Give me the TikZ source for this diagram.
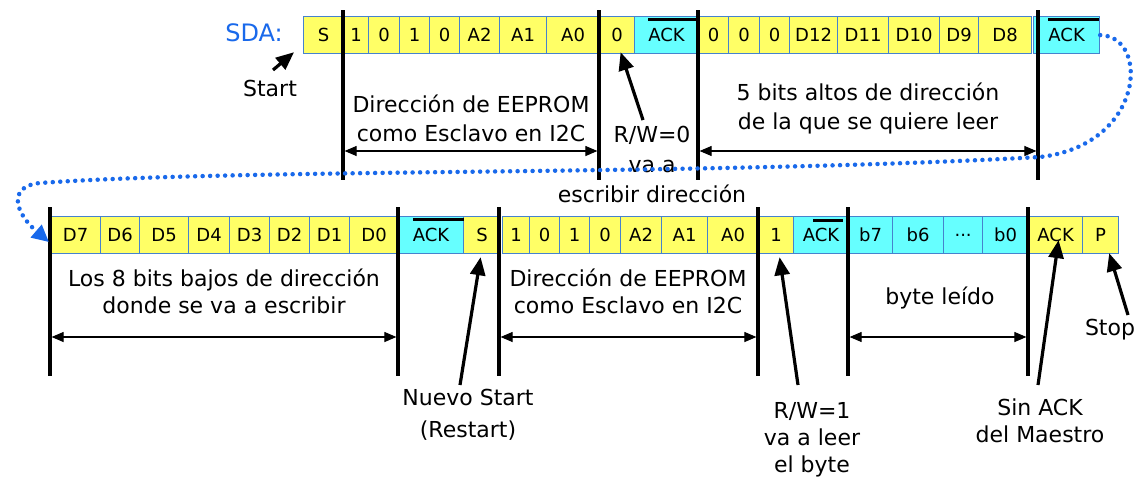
\documentclass[tikz,border=0pt]{standalone}
\usepackage{fontspec}
\setmainfont{DejaVu Sans}
\usetikzlibrary{arrows.meta,calc}
\definecolor{cellyellow}{RGB}{255,255,102}
\definecolor{cellcyan}{RGB}{102,255,255}
\definecolor{cellblue}{RGB}{70,130,205}
\definecolor{sdablue}{RGB}{25,105,235}
\newcommand\cellfont{\fontsize{18}{20}\selectfont}
\newcommand\notefont{\fontsize{22}{29}\selectfont}
\newcommand\mycell[6]{\pgfmathsetmacro\cellw{#5-#4}\node[#1, minimum width=\cellw pt] (#2) at (#4,#3) {#6};}
\tikzset{
  cellbox/.style={draw=cellblue, line width=1.2pt, minimum height=37pt, inner sep=0pt, anchor=north west, font=\cellfont},
  ycell/.style={cellbox, fill=cellyellow},
  ccell/.style={cellbox, fill=cellcyan},
  bar/.style={line width=3.2pt, black},
  dim/.style={line width=1.1pt, {Triangle[length=12pt,width=10pt]}-{Triangle[length=12pt,width=10pt]}},
  pointer/.style={line width=3.2pt, -{Triangle[length=18pt,width=15pt]}},
  note/.style={font=\notefont, align=center, inner sep=0pt},
  ackbar/.style={line width=3pt},
  link/.style={line width=4.5pt, sdablue, line cap=round, dash pattern=on 0pt off 7.5pt, -{Triangle[length=17pt,width=16pt]}}
}
\begin{document}
\begin{tikzpicture}[x=1pt,y=-1pt]
\useasboundingbox[fill=white] (0,0) rectangle (1139,477);
% top row
\mycell{ycell}{t1}{16}{303}{343}{S}
\mycell{ycell}{t2}{16}{343}{368}{1}
\mycell{ycell}{t3}{16}{368}{399}{0}
\mycell{ycell}{t4}{16}{399}{429}{1}
\mycell{ycell}{t5}{16}{429}{459}{0}
\mycell{ycell}{t6}{16}{459}{499}{A2}
\mycell{ycell}{t7}{16}{499}{546}{A1}
\mycell{ycell}{t8}{16}{546}{599}{A0}
\mycell{ycell}{t9}{16}{599}{634}{0}
\mycell{ccell}{t10}{16}{634}{698}{ACK}
\mycell{ycell}{t11}{16}{698}{728}{0}
\mycell{ycell}{t12}{16}{728}{759}{0}
\mycell{ycell}{t13}{16}{759}{789}{0}
\mycell{ycell}{t14}{16}{789}{837}{D12}
\mycell{ycell}{t15}{16}{837}{888}{D11}
\mycell{ycell}{t16}{16}{888}{939}{D10}
\mycell{ycell}{t17}{16}{939}{978}{D9}
\mycell{ycell}{t18}{16}{978}{1031}{D8}
\mycell{ccell}{t19}{16}{1033}{1099}{ACK}
% bottom row
\mycell{ycell}{b1}{216}{50}{100}{D7}
\mycell{ycell}{b2}{216}{100}{139}{D6}
\mycell{ycell}{b3}{216}{139}{188}{D5}
\mycell{ycell}{b4}{216}{188}{229}{D4}
\mycell{ycell}{b5}{216}{229}{269}{D3}
\mycell{ycell}{b6}{216}{269}{309}{D2}
\mycell{ycell}{b7}{216}{309}{349}{D1}
\mycell{ycell}{b8}{216}{349}{398}{D0}
\mycell{ccell}{b9}{216}{398}{463}{ACK}
\mycell{ycell}{b10}{216}{463}{500}{S}
\mycell{ycell}{b11}{216}{502}{529}{1}
\mycell{ycell}{b12}{216}{529}{559}{0}
\mycell{ycell}{b13}{216}{559}{589}{1}
\mycell{ycell}{b14}{216}{589}{620}{0}
\mycell{ycell}{b15}{216}{620}{661}{A2}
\mycell{ycell}{b16}{216}{661}{707}{A1}
\mycell{ycell}{b17}{216}{707}{758}{A0}
\mycell{ycell}{b18}{216}{758}{793}{1}
\mycell{ccell}{b19}{216}{793}{848}{ACK}
\mycell{ccell}{b20}{216}{848}{892}{b7}
\mycell{ccell}{b21}{216}{892}{943}{b6}
\mycell{ccell}{b22}{216}{943}{982}{...}
\mycell{ccell}{b23}{216}{982}{1028}{b0}
\mycell{ycell}{b24}{216}{1028}{1082}{ACK}
\mycell{ycell}{b25}{216}{1082}{1118}{P}
% ACK overlines
\draw[ackbar] ([xshift=14pt,yshift=-3.5pt]t10.north west) -- ([yshift=-3.5pt]t10.north east);
\draw[ackbar] ([xshift=15pt,yshift=-3.5pt]t19.north west) -- ([xshift=-1pt,yshift=-3.5pt]t19.north east);
\draw[ackbar] ([xshift=15pt,yshift=-3.5pt]b9.north west) -- ([yshift=-3.5pt]b9.north east);
\draw[ackbar] ([xshift=20pt,yshift=-4pt]b19.north west) -- ([xshift=-6pt,yshift=-4pt]b19.north east);
% vertical bars
\foreach \x/\n in {343/a,599/b,698/c,1038/d}{
  \coordinate (top\n) at (\x,10); \coordinate (bot\n) at (\x,180);
  \coordinate (dim\n) at (\x,151);
  \draw[bar] (top\n) -- (bot\n);
}
\foreach \x/\n in {50/e,398/f,499/g,758/h,848/i,1028/j}{
  \coordinate (top\n) at (\x,207); \coordinate (bot\n) at (\x,376);
  \coordinate (dim\n) at (\x,337);
  \draw[bar] (top\n) -- (bot\n);
}
% dimension arrows
\draw[dim] ([xshift=1.6pt]dima) -- ([xshift=-1.6pt]dimb);
\draw[dim] ([xshift=1.6pt]dimc) -- ([xshift=-1.6pt]dimd);
\draw[dim] ([xshift=1.6pt]dime) -- ([xshift=-1.6pt]dimf);
\draw[dim] ([xshift=1.6pt]dimg) -- ([xshift=-1.6pt]dimh);
\draw[dim] ([xshift=1.6pt]dimi) -- ([xshift=-1.6pt]dimj);
% texts
\node[font=\fontsize{24}{28}\selectfont, text=sdablue, inner sep=0pt] (sda) at (254,33) {SDA:};
\node[note] (start) at (270,88) {Start};
\node[note] (n1) at (471,118) {Dirección de EEPROM\\como Esclavo en I2C};
\node[note] (n2) at (868,108) {5 bits altos de dirección\\de la que se quiere leer};
\node[note, font=\fontsize{22}{30}\selectfont] (rw0) at (652,164) {R/W=0\\va a\\escribir dirección};
\node[note, font=\fontsize{22}{27}\selectfont] (n3) at (224,291) {Los 8 bits bajos de dirección\\donde se va a escribir};
\node[note, font=\fontsize{22}{27}\selectfont] (n4) at (628,291) {Dirección de EEPROM\\como Esclavo en I2C};
\node[note] (byte) at (940,298) {byte leído};
\node[note, font=\fontsize{22}{32}\selectfont] (restart) at (468,415) {Nuevo Start\\(Restart)};
\node[note, font=\fontsize{22}{27}\selectfont] (rw1) at (812,440) {R/W=1\\va a leer\\el byte};
\node[note, font=\fontsize{22}{27}\selectfont] (sinack) at (1040,421) {Sin ACK\\del Maestro};
\node[note] (stop) at (1110,330) {Stop};
% pointer arrows
\coordinate (startTail) at (273,70);
\coordinate (rw0Tail) at (643,120);
\coordinate (restartTail) at (460,385);
\coordinate (rw1Tail) at (798,385);
\coordinate (sinTail) at (1038,385);
\coordinate (stopTail) at (1128,315);
\draw[pointer] (startTail) -- ([xshift=-9pt,yshift=2pt]t1.south west);
\draw[pointer] (rw0Tail) -- ([xshift=3.5pt,yshift=2pt]t9.south);
\draw[pointer] (restartTail) -- ([xshift=-1.5pt,yshift=-3pt]b10.south);
\draw[pointer] (rw1Tail) -- ([xshift=3.5pt,yshift=-3pt]b18.south);
\draw[pointer] (sinTail) -- ([xshift=3pt,yshift=-5pt]b24.center);
\draw[pointer] (stopTail) -- ([xshift=-10pt,yshift=1pt]b25.south east);
% dotted link
\draw[link] (t19.east) .. controls (1150,36) and (1145,145) .. (1040,157)
  .. controls (700,176) and (250,168) .. (40,183)
  .. controls (8,186) and (14,212) .. ([xshift=-1pt,yshift=-7pt]b1.west);
\end{tikzpicture}
\end{document}
